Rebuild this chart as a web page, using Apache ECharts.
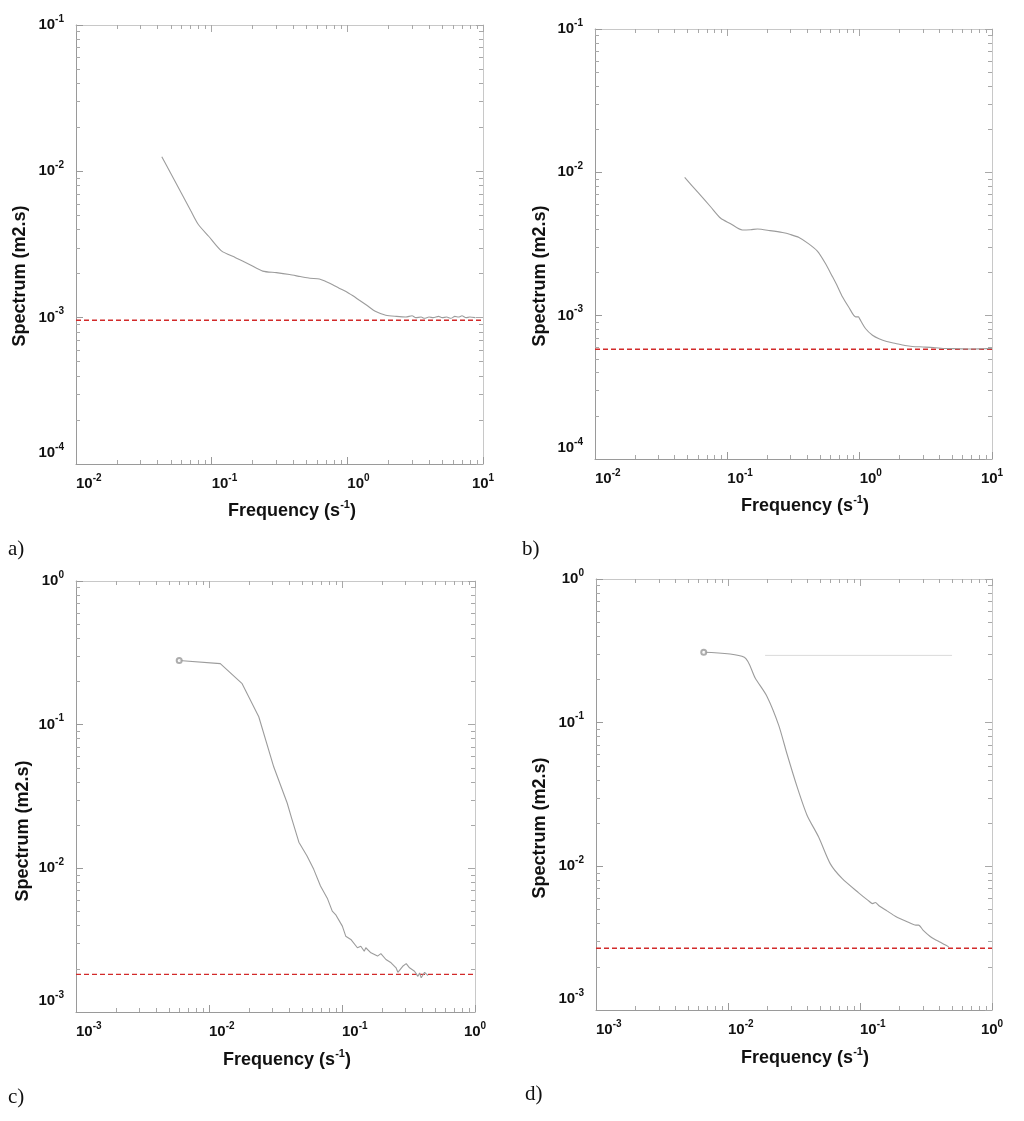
<!DOCTYPE html>
<html><head><meta charset="utf-8">
<script src="https://cdn.jsdelivr.net/npm/echarts@6/dist/echarts.min.js"></script>
<style>html,body{margin:0;padding:0;background:#fff}#c{width:1024px;height:1121px}</style>
</head><body><div id="c"></div>
<script>
// ---- data ----
const freqA = [0.0429,0.05,0.06,0.07,0.0793,0.095,0.118,0.15,0.19,0.238,0.3,0.375,0.45,0.53,0.622,0.7,0.78,0.87,0.977,1.1,1.22,1.4,1.62,1.92,2.3,2.7,3.0,3.2,3.5,3.7,4.0,4.3,4.7,5.0,5.4,5.8,6.2,6.6,7.0,7.5,8.0,8.8];
const specA = [0.0126,0.00968,0.00706,0.0054,0.00437,0.0036,0.00286,0.00257,0.00231,0.00208,0.00203,0.00197,0.00191,0.00186,0.00184,0.00176,0.00168,0.00159,0.00151,0.00141,0.00132,0.00121,0.00110,0.00104,0.00102,0.00101,0.00103,0.00100,0.00101,0.00099,0.00101,0.00100,0.00102,0.00100,0.00101,0.00099,0.00102,0.00101,0.00103,0.00100,0.00101,0.00100];
const noiseA = 0.00096;

const freqB = [0.0476,0.06,0.075,0.0891,0.105,0.13,0.15,0.169,0.21,0.261,0.3,0.348,0.41,0.479,0.55,0.621,0.68,0.739,0.83,0.933,0.98,1.0,1.11,1.25,1.40,1.6,1.87,2.2,2.5,3.0,3.6,4.47,5.5,7,8.5,10];
const specB = [0.00922,0.00724,0.00573,0.00478,0.0044,0.00396,0.00398,0.00402,0.00392,0.0038,0.00368,0.00351,0.00318,0.00282,0.00232,0.00188,0.0016,0.00136,0.00114,0.00098,0.00098,0.00095,0.00081,0.00073,0.00069,0.00066,0.00064,0.00062,0.00061,0.000605,0.0006,0.00059,0.000588,0.000585,0.000588,0.00059];
const noiseB = 0.000583;

const freqC = [0.00597,0.01216,0.01775,0.02367,0.0307,0.0387,0.042,0.0474,0.0546,0.0613,0.0689,0.0775,0.0845,0.0895,0.1006,0.1067,0.1165,0.1306,0.1385,0.147,0.151,0.165,0.185,0.196,0.214,0.234,0.255,0.263,0.286,0.304,0.322,0.351,0.372,0.383,0.394,0.418,0.443];
const specC = [0.280,0.266,0.193,0.1135,0.0507,0.0285,0.022,0.0152,0.0122,0.00984,0.00754,0.0062,0.00504,0.00477,0.00396,0.00337,0.0032,0.0028,0.00287,0.00265,0.0028,0.00258,0.00245,0.00255,0.00232,0.0022,0.00203,0.00189,0.00208,0.00217,0.00203,0.00192,0.00177,0.00187,0.00173,0.00189,0.00179];
const noiseC = 0.00183;

const freqD = [0.00655,0.0133,0.0161,0.0197,0.0242,0.028,0.0333,0.0397,0.0486,0.0596,0.0731,0.0977,0.115,0.125,0.1306,0.14,0.16,0.185,0.23,0.265,0.278,0.3,0.351,0.41,0.47];
const specD = [0.309,0.285,0.204,0.153,0.0962,0.0605,0.036,0.0227,0.016,0.0104,0.00824,0.00654,0.0058,0.0055,0.0056,0.0053,0.0049,0.0045,0.0041,0.0039,0.0039,0.0036,0.00318,0.00295,0.00275];
const noiseD = 0.00269;
const freqFaintD = [0.0191,0.498];
const specFaintD = [0.294,0.294];

const xTickExp = [[-2,1],[-2,1],[-3,0],[-3,0]];
const yTickExp = [[-4,-1],[-4,-1],[-3,0],[-3,0]];

// ---- layout / style ----
const FONT = '"Liberation Sans", Arial, Helvetica, sans-serif';
const SERIF = '"Liberation Serif", "Times New Roman", serif';
const layouts = [
  {left:76, top:25, width:407, height:439},
  {left:595, top:29, width:397, height:430},
  {left:76, top:581, width:399, height:431},
  {left:596, top:579, width:396, height:431}
];
const RICH = {
  b: {fontSize:15, fontWeight:'bold', color:'#111', fontFamily:FONT, lineHeight:22},
  s: {fontSize:10, fontWeight:'bold', color:'#111', fontFamily:FONT, lineHeight:14, verticalAlign:'top'}
};
function fmt(v){ return '{b|10}{s|' + Math.round(Math.log10(v)) + '}'; }
function minorPos(r){ const v=[]; for(let e=r[0];e<r[1];e++) for(let m=2;m<=9;m++) v.push(e+Math.log10(m)); return v; }
function majorPos(r){ const v=[]; for(let e=r[0];e<=r[1];e++) v.push(e); return v; }

const grids=[], xAxes=[], yAxes=[], series=[];
function deco(i, pos, r, vals, len, lineColor){
  return {gridIndex:i, type:'value', position:pos, min:r[0], max:r[1],
    axisLine:{show:!!lineColor, onZero:false, lineStyle:{color:lineColor||'#000', width:1}},
    axisTick:{show:true, inside:true, length:len, customValues:vals, lineStyle:{color:'#a8a8a8', width:1}},
    axisLabel:{show:false}, splitLine:{show:false}};
}
const panels = [
  {freq:freqA, spec:specA, noise:noiseA, smooth:0.25},
  {freq:freqB, spec:specB, noise:noiseB, smooth:0.25},
  {freq:freqC, spec:specC, noise:noiseC, smooth:0, marker:true},
  {freq:freqD, spec:specD, noise:noiseD, smooth:0.25, marker:true, faint:[freqFaintD, specFaintD]}
];
panels.forEach((p,i)=>{
  const L = layouts[i], xr = xTickExp[i], yr = yTickExp[i];
  grids.push({left:L.left, top:L.top, width:L.width, height:L.height, show:false, outerBoundsMode:'none'});
  xAxes.push({gridIndex:i, type:'log', logBase:10, position:'bottom', min:Math.pow(10,xr[0]), max:Math.pow(10,xr[1]), splitNumber:3,
    axisLine:{show:true, onZero:false, lineStyle:{color:'#9a9a9a', width:1}},
    axisTick:{show:true, inside:true, length:7, lineStyle:{color:'#9a9a9a'}},
    axisLabel:{show:true, margin:9, align:'left', alignMaxLabel:'center', formatter:fmt, rich:RICH},
    splitLine:{show:false}});
  xAxes.push(deco(i,'bottom',xr,minorPos(xr),4,null));
  xAxes.push(deco(i,'top',xr,majorPos(xr),7,'#c8c8c8'));
  xAxes.push(deco(i,'top',xr,minorPos(xr),4,null));
  yAxes.push({gridIndex:i, type:'log', logBase:10, position:'left', min:Math.pow(10,yr[0]), max:Math.pow(10,yr[1]), splitNumber:3,
    axisLine:{show:true, onZero:false, lineStyle:{color:'#9a9a9a', width:1}},
    axisTick:{show:true, inside:true, length:7, lineStyle:{color:'#9a9a9a'}},
    axisLabel:{show:true, margin:12, verticalAlignMinLabel:'bottom', formatter:fmt, rich:RICH},
    splitLine:{show:false}});
  yAxes.push(deco(i,'left',yr,minorPos(yr),4,null));
  yAxes.push(deco(i,'right',yr,majorPos(yr),7,'#c8c8c8'));
  yAxes.push(deco(i,'right',yr,minorPos(yr),4,null));
  const ax = i*4;
  series.push({type:'line', xAxisIndex:ax, yAxisIndex:ax, showSymbol:false, symbol:'none', silent:true,
    lineStyle:{color:'#d22a2a', width:1.3, type:[5,3]}, z:3,
    data:[[Math.pow(10,xr[0]), p.noise],[Math.pow(10,xr[1]), p.noise]]});
  series.push({type:'line', xAxisIndex:ax, yAxisIndex:ax, showSymbol:false, symbol:'none', silent:true, smooth:p.smooth,
    lineStyle:{color:'#9c9c9c', width:1.1}, z:4,
    data:p.freq.map((f,k)=>[f,p.spec[k]])});
  if (p.marker) series.push({type:'scatter', xAxisIndex:ax, yAxisIndex:ax, symbol:'emptyCircle', symbolSize:5, silent:true,
    itemStyle:{color:'#999', borderColor:'#999', borderWidth:1}, z:5, data:[[p.freq[0], p.spec[0]]]});
  if (p.faint) series.push({type:'line', xAxisIndex:ax, yAxisIndex:ax, showSymbol:false, symbol:'none', silent:true,
    lineStyle:{color:'#dadada', width:1}, z:2, data:p.faint[0].map((f,k)=>[f,p.faint[1][k]])});
});

const yTitles = [{x:20,y:276},{x:540,y:276},{x:23,y:831},{x:540,y:828}];
const xTitles = [{x:292,y:511},{x:805,y:506},{x:287,y:1060},{x:805,y:1058}];
const panelLabels = [['a)',8,549],['b)',522,549],['c)',8,1097],['d)',525,1094]];
const graphic = [];
yTitles.forEach(t=>graphic.push({type:'text', x:t.x, y:t.y, rotation:Math.PI/2, silent:true,
  style:{text:'Spectrum (m2.s)', font:'bold 18px '+FONT, fill:'#111', align:'center', verticalAlign:'middle'}}));
xTitles.forEach(t=>graphic.push({type:'text', x:t.x, y:t.y, silent:true,
  style:{text:'{a|Frequency (s}{s|-1}{a|)}', align:'center', verticalAlign:'middle',
    rich:{a:{fontSize:18, fontWeight:'bold', fontFamily:FONT, fill:'#111', color:'#111', lineHeight:24},
          s:{fontSize:11, fontWeight:'bold', fontFamily:FONT, fill:'#111', color:'#111', lineHeight:14, verticalAlign:'top'}}}}));
panelLabels.forEach(l=>graphic.push({type:'text', x:l[1], y:l[2], silent:true,
  style:{text:l[0], font:'21px '+SERIF, fill:'#111', align:'left', verticalAlign:'middle'}}));

const chart = echarts.init(document.getElementById('c'), null, {renderer:'canvas'});
chart.setOption({backgroundColor:'#ffffff', animation:false, grid:grids, xAxis:xAxes, yAxis:yAxes, series:series, graphic:graphic});
</script></body></html>
